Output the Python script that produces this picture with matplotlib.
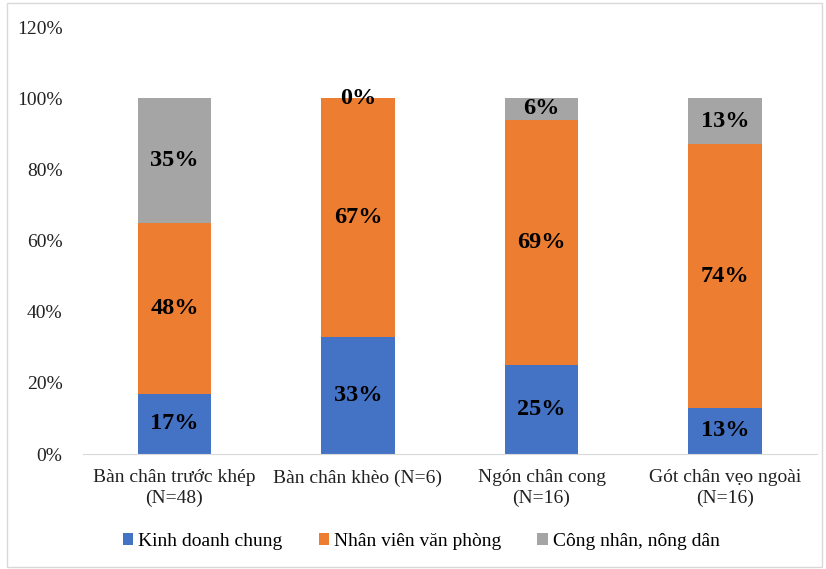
import matplotlib
matplotlib.use("Agg")
import matplotlib.pyplot as plt
from matplotlib.patches import Rectangle
from matplotlib.ticker import FuncFormatter

plt.rcParams['font.family'] = ['Liberation Serif', 'DejaVu Serif']

categories = ["Bàn chân trước khép\n(N=48)", "Bàn chân khèo (N=6)", "Ngón chân cong\n(N=16)", "Gót chân vẹo ngoài\n(N=16)"]
series_names = ["Kinh doanh chung", "Nhân viên văn phòng", "Công nhân, nông dân"]
kinh_doanh = [17, 33, 25, 13]
nhan_vien = [48, 67, 69, 74]
cong_nhan = [35, 0, 6, 13]
colors = ["#4472C4", "#ED7D31", "#A5A5A5"]

fig = plt.figure(figsize=(8.26, 5.69), dpi=100)
ax = fig.add_axes([0.100, 0.202, 0.889, 0.7505])

x = list(range(len(categories)))
bottom = [0] * len(categories)
for vals, name, col in zip([kinh_doanh, nhan_vien, cong_nhan], series_names, colors):
    ax.bar(x, vals, width=0.4, bottom=bottom, color=col, label=name)
    for xi, v, b in zip(x, vals, bottom):
        ax.text(xi, b + v / 2, f"{v}%", ha="center", va="center", fontsize=17.5, fontweight="bold", color="black")
    bottom = [b + v for b, v in zip(bottom, vals)]

ax.set_xlim(-0.5, len(categories) - 0.5)
ax.set_ylim(0, 120)
ax.set_yticks(range(0, 121, 20))
ax.yaxis.set_major_formatter(FuncFormatter(lambda v, p: f"{int(v)}%"))
ax.set_xticks(x)
ax.set_xticklabels(categories, fontsize=14, linespacing=1.25)
ax.tick_params(axis="both", length=0, labelsize=14, colors="#222222")
ax.tick_params(axis="y", pad=14.5)
ax.tick_params(axis="x", pad=11)
for s in ["top", "right", "left"]:
    ax.spines[s].set_visible(False)
ax.spines["bottom"].set_color("#D9D9D9")

fig.legend(loc="center", bbox_to_anchor=(0.51, 0.049), ncol=3, frameon=False,
           fontsize=14, handlelength=0.55, handleheight=0.55, handletextpad=0.25, columnspacing=1.85)

fig.patches.append(Rectangle((0.008, 0.004), 0.987, 0.99, transform=fig.transFigure,
                             fill=False, edgecolor="#D9D9D9", linewidth=1.0))

fig.savefig("out.png", dpi=100)
